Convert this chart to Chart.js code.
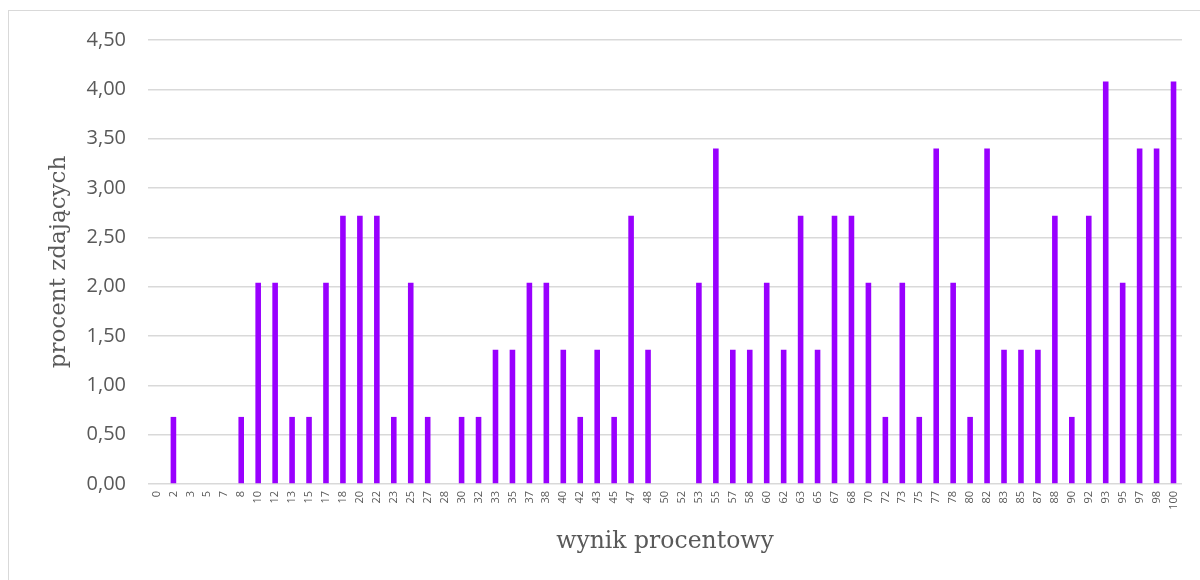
<!DOCTYPE html>
<html>
<head>
<meta charset="utf-8">
<script src="https://cdn.jsdelivr.net/npm/chart.js@4"></script>
<style>
  html, body { margin: 0; padding: 0; background: #fff; overflow: hidden; }
  #frame { position: absolute; left: 8px; top: 10px; width: 1220px; height: 600px; border: 1px solid #d9d9d9; pointer-events: none; }
  canvas { position: absolute; left: 0; top: 0; }
</style>
</head>
<body>
<canvas id="chart" width="1200" height="580"></canvas>
<div id="frame"></div>
<script>
// wynik procentowy (x categories)
const SCORES = ['0','2','3','5','7','8','10','12','13','15','17','18','20','22','23','25','27','28','30','32',
  '33','35','37','38','40','42','43','45','47','48','50','52','53','55','57','58','60','62','63','65',
  '67','68','70','72','73','75','77','78','80','82','83','85','87','88','90','92','93','95','97','98','100'];

// procent zdających
const PERCENT = [0,0.68,0,0,0,0.68,2.04,2.04,0.68,0.68,2.04,2.72,2.72,2.72,0.68,2.04,0.68,0,0.68,0.68,
  1.36,1.36,2.04,2.04,1.36,0.68,1.36,0.68,2.72,1.36,0,0,2.04,3.40,1.36,1.36,2.04,1.36,2.72,1.36,
  2.72,2.72,2.04,0.68,2.04,0.68,3.40,2.04,0.68,3.40,1.36,1.36,1.36,2.72,0.68,2.72,4.08,2.04,3.40,3.40,4.08];

const Y_MIN = 0, Y_MAX = 4.5, Y_STEP = 0.5;

const TEXT = '#595959';
const GRID = '#d9d9d9';

new Chart(document.getElementById('chart'), {
  type: 'bar',
  data: {
    labels: SCORES,
    datasets: [{
      data: PERCENT,
      backgroundColor: '#9900ff',
      borderWidth: 0,
      barPercentage: 0.33,
      categoryPercentage: 1
    }]
  },
  options: {
    responsive: false,
    devicePixelRatio: 1,
    animation: false,
    layout: { padding: { top: 40, right: 18, bottom: 0, left: 0 } },
    plugins: { legend: { display: false }, tooltip: { enabled: false } },
    scales: {
      x: {
        afterFit: s => { s.height = 96; },
        grid: { display: false, drawTicks: false },
        border: { display: false },
        ticks: {
          autoSkip: false, minRotation: 90, maxRotation: 90, padding: 7,
          color: TEXT, font: { family: 'Open Sans', size: 11 }
        },
        title: {
          display: true, text: 'wynik procentowy', color: TEXT,
          font: { family: 'DejaVu Serif', size: 23.5 },
          padding: { top: 0, bottom: 24 }
        }
      },
      y: {
        min: Y_MIN, max: Y_MAX,
        afterFit: s => { s.width = 148; },
        grid: { color: GRID, lineWidth: 1.5, drawTicks: false },
        border: { display: false },
        ticks: {
          stepSize: Y_STEP, padding: 22, color: TEXT,
          font: { family: 'Open Sans', size: 20 },
          callback: v => v.toFixed(2).replace('.', ',')
        },
        title: {
          display: true, text: 'procent zdających', color: TEXT,
          font: { family: 'DejaVu Serif', size: 23 },
          padding: { top: 45, bottom: 0 }
        }
      }
    }
  }
});
</script>
</body>
</html>
